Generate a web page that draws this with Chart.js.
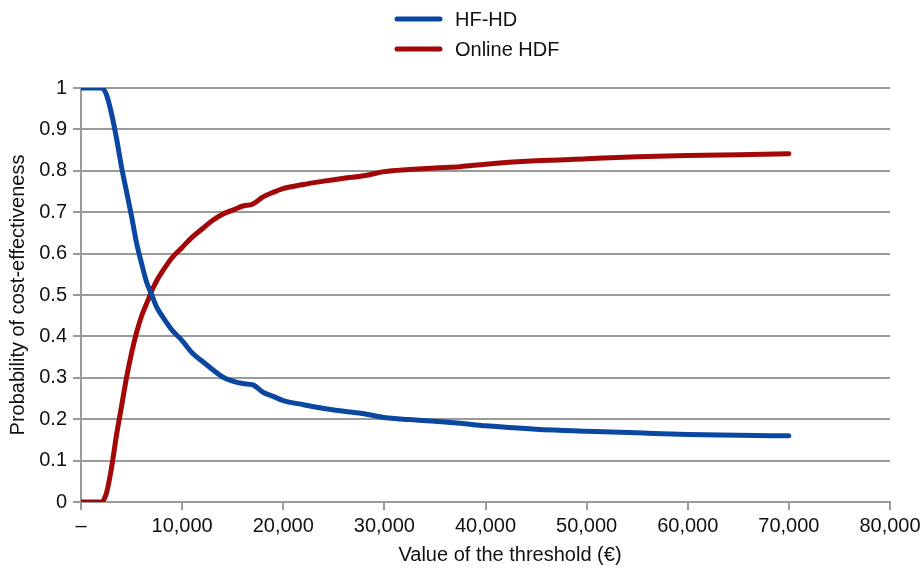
<!DOCTYPE html>
<html>
<head>
<meta charset="utf-8">
<script src="https://cdn.jsdelivr.net/npm/chart.js@4.4.1/dist/chart.umd.min.js"></script>
<style>
  html, body { margin: 0; padding: 0; background: #fff; }
  #wrap { width: 921px; height: 569px; position: relative; }
</style>
</head>
<body>
<div id="wrap"><canvas id="chartCeac"></canvas></div>
<script>
// Seuil de disposition à payer (€)
const thresholds = [0, 1000, 2000, 2500, 3000, 3500, 4000, 4500, 5000, 5500, 6000, 6500, 7000, 7500, 8000,
  9000, 10000, 11000, 12000, 13000, 14000, 15000, 16000, 17000, 18000, 19000, 20000, 22000, 24000,
  26000, 28000, 30000, 32500, 35000, 37500, 40000, 45000, 50000, 55000, 60000, 65000, 70000];

// Probabilité d'être coût-efficace
const hfHd = [1, 1, 1, 0.985, 0.94, 0.88, 0.81, 0.75, 0.69, 0.625, 0.575, 0.53, 0.5, 0.47, 0.45,
  0.415, 0.39, 0.36, 0.34, 0.32, 0.302, 0.292, 0.286, 0.283, 0.265, 0.255, 0.245, 0.235, 0.226,
  0.219, 0.213, 0.204, 0.199, 0.195, 0.19, 0.184, 0.176, 0.171, 0.167, 0.163, 0.161, 0.16];

const onlineHdf = [0, 0, 0, 0.02, 0.08, 0.16, 0.23, 0.3, 0.36, 0.41, 0.45, 0.48, 0.51, 0.535, 0.555,
  0.59, 0.615, 0.64, 0.66, 0.68, 0.695, 0.705, 0.715, 0.72, 0.737, 0.748, 0.757, 0.767, 0.775,
  0.782, 0.788, 0.798, 0.803, 0.807, 0.81, 0.816, 0.824, 0.829, 0.834, 0.837, 0.839, 0.841];

const xTickLabels = ['–', '10,000', '20,000', '30,000', '40,000', '50,000', '60,000', '70,000', '80,000'];
const yTickLabels = ['0', '0.1', '0.2', '0.3', '0.4', '0.5', '0.6', '0.7', '0.8', '0.9', '1'];

const FONT = 'Liberation Sans, Arial, sans-serif';
const TXT = '#111';
const GRID = '#9a9a9a';

// Légende verticale + titre de l'axe X dessinés à la main
const customText = {
  id: 'customText',
  afterDraw(chart) {
    const ctx = chart.ctx;
    ctx.save();
    ctx.font = '20px ' + FONT;
    ctx.textBaseline = 'middle';
    ctx.textAlign = 'left';
    chart.data.datasets.forEach((ds, i) => {
      const y = 19 + i * 30;
      ctx.strokeStyle = ds.borderColor;
      ctx.lineWidth = 5;
      ctx.lineCap = 'round';
      ctx.beginPath();
      ctx.moveTo(397, y);
      ctx.lineTo(440, y);
      ctx.stroke();
      ctx.fillStyle = TXT;
      ctx.fillText(ds.label, 455, y + 1);
    });
    ctx.textAlign = 'center';
    ctx.fillText('Value of the threshold (€)', 510, 555);
    ctx.restore();
  }
};

new Chart(document.getElementById('chartCeac'), {
  type: 'line',
  data: {
    datasets: [{
      label: 'HF-HD',
      data: thresholds.map((t, i) => ({ x: t, y: hfHd[i] })),
      borderColor: '#0a47a0',
      borderWidth: 5,
      pointRadius: 0,
      cubicInterpolationMode: 'monotone',
      borderCapStyle: 'round',
      borderJoinStyle: 'round',
      fill: false
    }, {
      label: 'Online HDF',
      data: thresholds.map((t, i) => ({ x: t, y: onlineHdf[i] })),
      borderColor: '#a30808',
      borderWidth: 5,
      pointRadius: 0,
      cubicInterpolationMode: 'monotone',
      borderCapStyle: 'round',
      borderJoinStyle: 'round',
      fill: false
    }]
  },
  options: {
    responsive: true,
    maintainAspectRatio: false,
    animation: false,
    layout: { padding: { top: 88, right: 31, bottom: 0, left: 0 } },
    plugins: {
      legend: { display: false },
      tooltip: { enabled: false }
    },
    scales: {
      x: {
        type: 'linear',
        min: 0,
        max: 80000,
        afterFit: s => { s.height = 67; s.paddingRight = 0; s.paddingLeft = 0; },
        ticks: {
          stepSize: 10000,
          maxRotation: 0,
          padding: 4,
          color: TXT,
          font: { family: FONT, size: 20 },
          callback: (v) => xTickLabels[Math.round(v / 10000)]
        },
        grid: { drawOnChartArea: false, drawTicks: true, tickLength: 8, color: GRID, lineWidth: 2 },
        border: { color: GRID, width: 2 }
      },
      y: {
        min: 0,
        max: 1,
        afterFit: s => { s.width = 81; s.paddingTop = 0; s.paddingBottom = 0; },
        ticks: {
          stepSize: 0.1,
          padding: 6,
          color: TXT,
          font: { family: FONT, size: 20 },
          callback: (v) => yTickLabels[Math.round(v * 10)]
        },
        grid: { color: GRID, lineWidth: 2, tickLength: 8 },
        border: { color: GRID, width: 2 },
        title: {
          display: true,
          text: 'Probability of cost-effectiveness',
          color: TXT,
          font: { family: FONT, size: 20 },
          padding: { top: 6, bottom: 0 }
        }
      }
    }
  },
  plugins: [customText]
});
</script>
</body>
</html>
